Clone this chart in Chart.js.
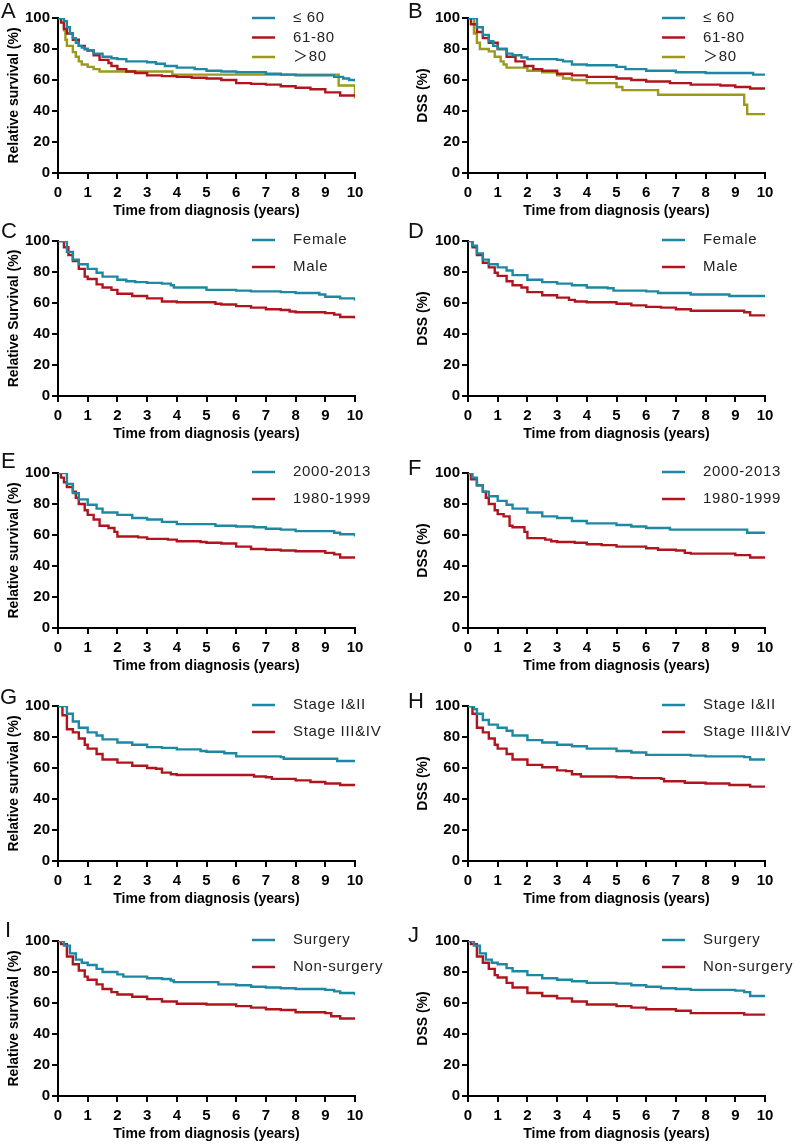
<!DOCTYPE html>
<html>
<head>
<meta charset="utf-8">
<script src="https://cdn.jsdelivr.net/npm/chart.js@4.4.1/dist/chart.umd.min.js"></script>
<style>
  html, body { margin: 0; padding: 0; background: #fff; }
  body { width: 795px; height: 1144px; position: relative; overflow: hidden; }
  canvas { position: absolute; }
  .tag { position: absolute; font: 22px "Liberation Sans", Arial, sans-serif; line-height: 1; color: #111; }
</style>
</head>
<body>
<script>
// ── Axis ticks and labels ───────────────────────────────────────
const xTicks = [0, 1, 2, 3, 4, 5, 6, 7, 8, 9, 10];
const yTicks = [0, 20, 40, 60, 80, 100];
const xTitle = 'Time from diagnosis (years)';

const ageLabels    = ['≤ 60', '61-80', '＞80'];
const sexLabels    = ['Female', 'Male'];
const periodLabels = ['2000-2013', '1980-1999'];
const stageLabels  = ['Stage I&II', 'Stage III&IV'];
const surgLabels   = ['Surgery', 'Non-surgery'];

// ── Survival curves: [years, percent] after each step ──────────
const aLe60 = [[0,100],[0.15,100],[0.2,98],[0.3,94],[0.4,90],[0.5,87],[0.6,84],[0.7,82],[0.8,81],[0.9,80],[1,79],[1.2,77],[1.5,75],[1.8,74],[2,73.5],[2.3,72],[3,71.5],[3.3,70.5],[3.6,69],[4,68],[4.6,67],[5,66],[5.5,65.5],[6,65],[7,64],[7.5,63.5],[8,63],[9,63],[9.3,62],[9.6,61],[9.8,60],[10,59]];
const a6180 = [[0,100],[0.1,97],[0.2,93],[0.3,90],[0.5,86],[0.7,82],[0.9,80],[1,79],[1.2,76],[1.4,73],[1.7,71],[1.8,69],[2,67],[2.3,65.5],[2.6,64.5],[3,63],[3.5,62.5],[4,62],[4.5,61.5],[5,61],[5.5,60],[6,58],[6.5,57.5],[7,57],[7.5,56],[8,55],[8.5,54],[9,52],[9.5,50],[10,50]];
const aGt80 = [[0,100],[0.2,92],[0.25,86],[0.3,82],[0.5,78],[0.6,75],[0.7,72],[0.8,70],[1,68.5],[1.2,67],[1.4,65.5],[3.85,63.5],[9.45,56.5],[10,48]];

const bLe60 = [[0,100],[0.15,100],[0.3,94],[0.5,89],[0.7,85],[0.85,82],[1,80],[1.3,77],[1.5,76],[1.8,74.5],[2,73.5],[3,73],[3.2,72],[3.5,70],[4,69.5],[5,68.5],[5.3,67],[6,66],[7,65],[8,64.5],[9.5,64.5],[9.6,63.5],[10,63.5]];
const b6180 = [[0,100],[0.1,96],[0.3,91],[0.5,87],[0.7,84],[1,80],[1.3,75],[1.6,72],[1.9,69],[2.2,67],[2.5,66],[3,64],[3.5,63],[4,62],[5,61],[5.5,60],[6,59],[6.8,58],[7.5,57],[8.5,56.5],[9,55.5],[9.5,54.5],[10,54.5]];
const bGt80 = [[0,100],[0.2,90],[0.3,84],[0.4,80],[0.7,78.5],[0.9,75],[1.1,72],[1.2,70],[1.3,68],[2,66],[2.5,65],[3,63],[3.2,61],[3.5,60],[4,58],[5,55.5],[5.2,53.5],[6.4,50.5],[9.3,44],[9.4,38],[10,38]];

const cFemale = [[0,100],[0.15,100],[0.3,93],[0.5,88],[0.7,85],[1,82],[1.3,79.5],[1.5,77],[2,75],[2.3,74],[2.6,73.5],[3,73],[3.5,72.5],[3.8,71.5],[3.9,70],[5,68.5],[6,68],[6.5,67.5],[7.5,67],[8,66.5],[8.8,65.5],[9,64],[9.5,63],[10,61.5]];
const cMale   = [[0,100],[0.12,100],[0.2,96],[0.35,91],[0.5,87],[0.7,82],[0.9,77],[1,75.5],[1.3,72],[1.5,70],[1.8,68.5],[2,66],[2.5,64.5],[3,63],[3.5,61],[4,60.5],[5,60.5],[5.3,59.5],[5.5,59],[6,58],[6.5,57],[7,56],[7.5,55.5],[7.8,54.5],[8,54],[9,53.5],[9.3,52.5],[9.5,51],[10,50]];

const dFemale = [[0,100],[0.1,100],[0.15,97],[0.3,92],[0.5,88],[0.7,85],[1,83],[1.3,81],[1.5,78],[2,75],[2.5,73.5],[3,72.5],[3.5,71.5],[4,70],[4.7,69.5],[4.9,68],[6,67.5],[6.4,66.5],[7.5,65.5],[8.8,64.5],[10,64.5]];
const dMale   = [[0,100],[0.1,100],[0.15,96],[0.3,91],[0.5,86],[0.7,83],[0.9,79.5],[1,77.5],[1.3,74],[1.5,71.5],[1.8,70],[2,67],[2.5,65],[3,63.5],[3.4,62],[3.6,61],[4,60.5],[5,59.5],[5.5,58.5],[6,57.5],[6.5,57],[7,56],[7.5,55],[9.3,54],[9.5,52],[10,52]];

const eNew = [[0,100],[0.15,100],[0.3,93],[0.5,87],[0.7,83],[1,79.5],[1.3,77],[1.5,74.5],[2,73],[2.5,71],[3,70],[3.5,68.5],[4,67],[5.3,66],[6,65.5],[6.6,65],[7,64],[7.5,63.5],[8,62.5],[9,62.5],[9.3,61.5],[9.5,60.5],[10,59]];
const eOld = [[0,100],[0.1,97],[0.2,94],[0.3,91],[0.5,88],[0.6,84],[0.7,80],[0.9,76],[1,73],[1.2,70],[1.4,66],[1.7,64.5],[1.9,62],[2,59],[2.7,58.5],[3,57.5],[3.7,57],[4,56],[4.8,55.5],[5,55],[5.5,54.5],[6,52.5],[6.5,51],[7,50.5],[7.5,50],[8,49.5],[9,48.5],[9.3,47.5],[9.5,45.5],[10,45]];

const fNew = [[0,100],[0.1,100],[0.15,97],[0.3,92],[0.5,88],[0.7,85],[1,82],[1.3,79.5],[1.5,77],[2,74.5],[2.5,72],[3,71],[3.5,69],[4,67.5],[5,66.5],[5.5,65.5],[6,64.5],[6.8,63.5],[9.4,61.5],[10,61.5]];
const fOld = [[0,100],[0.1,96],[0.3,92],[0.5,88],[0.6,84],[0.7,80],[0.9,76],[1,73.5],[1.2,72],[1.4,66],[1.5,65],[1.9,62],[2,58],[2.6,57],[2.8,56],[3,55.5],[3.6,55],[4,54],[4.5,53.5],[5,52.5],[6,51.5],[6.4,50.5],[7,50],[7.3,48.5],[7.5,48],[9,47],[9.5,45.5],[10,45.5]];

const gEarly = [[0,100],[0.2,100],[0.3,95],[0.5,90],[0.7,86],[1,83],[1.3,81],[1.5,78.5],[2,76.5],[2.5,75],[3,73.5],[3.5,73],[4,72],[4.8,71],[5,70.5],[5.6,69.5],[6,67.5],[7.5,67],[7.6,66],[9.4,64.5],[10,64.5]];
const gLate  = [[0,100],[0.15,94],[0.3,85],[0.5,83],[0.7,79],[0.9,75],[1,72.5],[1.3,69],[1.5,65.5],[2,63.5],[2.5,61.5],[3,60],[3.3,59.5],[3.5,57],[3.8,56],[4,55.5],[6.4,55.5],[6.6,54.5],[7,54],[7.2,53],[8,52],[8.5,51],[9,50],[9.5,49],[10,48.5]];

const hEarly = [[0,100],[0.15,100],[0.2,98],[0.3,95],[0.5,91],[0.7,88],[1,86],[1.3,84],[1.5,81],[2,78],[2.5,76.5],[3,75],[3.5,74],[4,72.5],[5,71],[5.5,70],[6,68.5],[7.5,68],[8,67.5],[9.3,67],[9.5,65.5],[10,65.5]];
const hLate  = [[0,100],[0.15,95],[0.3,86],[0.5,83],[0.7,79],[0.9,75],[1,72.5],[1.3,69],[1.5,65.5],[2,62],[2.5,60.5],[3,58.5],[3.3,58],[3.5,56],[3.8,54.5],[5,54],[5.5,53.5],[6.5,53],[6.6,51.5],[7.3,50.5],[8,50],[8.8,49],[9.5,48],[10,48]];

const iSurg = [[0,100],[0.15,100],[0.2,97],[0.4,92],[0.6,88],[0.8,86],[1,84.5],[1.3,82],[1.5,80],[2,78.5],[2.2,77],[3,76],[3.5,75.5],[3.8,74.5],[3.9,73.5],[5.3,73.5],[5.4,72],[6,71.5],[6.5,70.5],[7,70],[7.5,69.5],[8,69],[9,68.5],[9.3,67.5],[9.5,66.5],[10,65]];
const iNon  = [[0,100],[0.1,98],[0.3,90],[0.5,85],[0.7,81],[0.9,77],[1,75],[1.3,72],[1.5,69],[1.8,67],[2,65.5],[2.5,64],[3,62.5],[3.5,61],[4,59.5],[5,59],[6,58],[6.5,57],[7,56],[7.5,55.5],[8,54],[9,53.5],[9.2,51.5],[9.5,50],[10,49.5]];

const jSurg = [[0,100],[0.15,100],[0.2,97],[0.4,92],[0.6,88],[0.8,86],[1,85],[1.3,82.5],[1.5,80.5],[2,78],[2.5,76],[3,75],[3.5,74],[4,73],[5,72.5],[5.5,71.5],[6,70.5],[6.5,69.5],[7,69],[7.5,68.5],[9,68],[9.3,67],[9.5,64.5],[10,64.5]];
const jNon  = [[0,100],[0.1,98],[0.3,90],[0.5,86],[0.7,82],[0.9,78],[1,76.5],[1.3,73],[1.5,70],[2,66.5],[2.5,64.5],[3,63],[3.5,61],[4,59],[5,58],[5.5,57],[6,56],[7,55],[7.5,53.5],[9.3,52.5],[10,52.5]];

// ── Layout & style ──────────────────────────────────────────────
const TEAL = '#1d88a2', RED = '#b0141d', OLIVE = '#9c9a1c';
const PLOT_TOP = [18, 241, 473, 706, 941];
const PLOT_H = 155, X_AXIS_H = 48;

const panels = [
  { tag: 'A', col: 0, row: 0, yTitle: 'Relative survival (%)', labels: ageLabels,    data: [aLe60, a6180, aGt80], tagPos: [1, 0] },
  { tag: 'B', col: 1, row: 0, yTitle: 'DSS (%)',               labels: ageLabels,    data: [bLe60, b6180, bGt80], tagPos: [408, 0] },
  { tag: 'C', col: 0, row: 1, yTitle: 'Relative Survival (%)', labels: sexLabels,    data: [cFemale, cMale],      tagPos: [1, 220] },
  { tag: 'D', col: 1, row: 1, yTitle: 'DSS (%)',               labels: sexLabels,    data: [dFemale, dMale],      tagPos: [408, 220] },
  { tag: 'E', col: 0, row: 2, yTitle: 'Relative survival (%)', labels: periodLabels, data: [eNew, eOld],          tagPos: [1, 450] },
  { tag: 'F', col: 1, row: 2, yTitle: 'DSS (%)',               labels: periodLabels, data: [fNew, fOld],          tagPos: [408, 457] },
  { tag: 'G', col: 0, row: 3, yTitle: 'Relative survival (%)', labels: stageLabels,  data: [gEarly, gLate],       tagPos: [0, 686] },
  { tag: 'H', col: 1, row: 3, yTitle: 'DSS (%)',               labels: stageLabels,  data: [hEarly, hLate],       tagPos: [408, 690] },
  { tag: 'I', col: 0, row: 4, yTitle: 'Relative survival (%)', labels: surgLabels,   data: [iSurg, iNon],         tagPos: [5, 919] },
  { tag: 'J', col: 1, row: 4, yTitle: 'DSS (%)',               labels: surgLabels,   data: [jSurg, jNon],         tagPos: [408, 924] },
];

// Legend drawn inside the plot, GraphPad style
const kmLegend = {
  id: 'kmLegend',
  afterDraw(chart) {
    const { ctx, chartArea } = chart;
    const sets = chart.data.datasets;
    const gap = sets.length > 2 ? 19.5 : 27;
    const y0 = chartArea.top + (sets.length > 2 ? 0 : -1);
    ctx.save();
    sets.forEach((ds, i) => {
      const y = y0 + i * gap;
      ctx.strokeStyle = ds.borderColor;
      ctx.lineWidth = 2.5;
      ctx.beginPath();
      ctx.moveTo(chartArea.left + 194, y);
      ctx.lineTo(chartArea.left + 217, y);
      ctx.stroke();
      ctx.fillStyle = '#222';
      ctx.font = '15px "Liberation Sans", "Noto Sans CJK SC", sans-serif';
      ctx.letterSpacing = '0.7px';
      ctx.textBaseline = 'middle';
      ctx.textAlign = 'left';
      ctx.fillText(ds.label, chartArea.left + 235, y);
    });
    ctx.restore();
  }
};

const tickFont  = { family: '"Liberation Sans", Arial, sans-serif', size: 15, weight: 'bold' };
const titleFont = { family: '"Liberation Sans", Arial, sans-serif', size: 14, weight: 'bold' };

function buildPanel(p) {
  const colors = p.data.length > 2 ? [TEAL, RED, OLIVE] : [TEAL, RED];
  const left = p.col === 0 ? 0 : 395;
  const width = p.col === 0 ? 395 : 400;
  const top = PLOT_TOP[p.row] - 18;
  const height = 18 + PLOT_H + X_AXIS_H;

  const canvas = document.createElement('canvas');
  canvas.width = width; canvas.height = height;
  canvas.style.left = left + 'px'; canvas.style.top = top + 'px';
  canvas.style.width = width + 'px'; canvas.style.height = height + 'px';
  document.body.appendChild(canvas);

  const tag = document.createElement('div');
  tag.className = 'tag';
  tag.textContent = p.tag;
  tag.style.left = p.tagPos[0] + 'px'; tag.style.top = p.tagPos[1] + 'px';
  document.body.appendChild(tag);

  new Chart(canvas.getContext('2d'), {
    type: 'line',
    data: {
      datasets: p.data.map((d, i) => ({
        label: p.labels[i],
        data: d.map(([x, y]) => ({ x, y })),
        borderColor: colors[i],
        borderWidth: 2.4,
        pointRadius: 0,
        stepped: true,
        fill: false,
      })),
    },
    options: {
      responsive: false,
      animation: false,
      devicePixelRatio: 1,
      layout: { padding: { top: 18, right: p.col === 0 ? 40 : 30, left: 0, bottom: 0 } },
      plugins: { legend: { display: false }, tooltip: { enabled: false } },
      scales: {
        x: {
          type: 'linear', min: 0, max: 10,
          afterBuildTicks: s => { s.ticks = xTicks.map(v => ({ value: v })); },
          afterFit: s => { s.height = X_AXIS_H; },
          ticks: { font: tickFont, color: '#000', padding: 5, maxRotation: 0, autoSkip: false },
          grid: { drawOnChartArea: false, drawTicks: true, tickLength: 6, color: '#000', lineWidth: 2 },
          border: { color: '#000', width: 2 },
          title: { display: true, text: xTitle, font: titleFont, color: '#000', padding: { top: 0, bottom: 1 } },
        },
        y: {
          type: 'linear', min: 0, max: 100,
          afterBuildTicks: s => { s.ticks = yTicks.map(v => ({ value: v })); },
          afterFit: s => { s.width = p.col === 0 ? 58 : 73; },
          ticks: { font: tickFont, color: '#000', padding: 2 },
          grid: { drawOnChartArea: false, drawTicks: true, tickLength: 6, color: '#000', lineWidth: 2 },
          border: { color: '#000', width: 2 },
          title: { display: true, text: p.yTitle, font: titleFont, color: '#000', padding: { top: p.col === 0 ? 6 : 20, bottom: 0 } },
        },
      },
    },
    plugins: [kmLegend],
  });
}

panels.forEach(buildPanel);
</script>
</body>
</html>
